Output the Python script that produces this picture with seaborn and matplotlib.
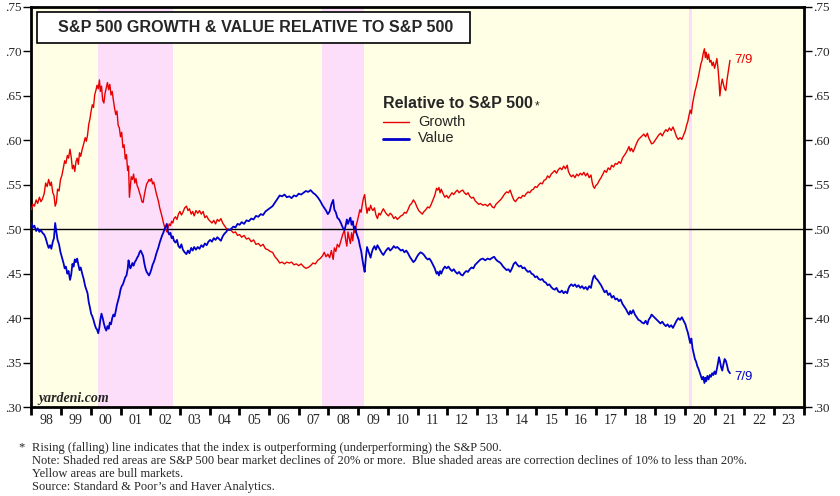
import numpy as np
import pandas as pd
import matplotlib
matplotlib.use("Agg")
import matplotlib.pyplot as plt
import seaborn as sns
from matplotlib.patches import Rectangle
from matplotlib.lines import Line2D

sns.set_style("white")
plt.rcParams['font.family'] = ['Liberation Sans', 'DejaVu Sans']

# weekly-ish readings, decimal years
dates = [
    1998.00, 1998.05, 1998.10, 1998.16, 1998.21, 1998.27, 1998.32, 1998.37, 1998.43, 1998.48, 1998.53, 1998.58, 1998.63, 1998.67, 1998.72, 1998.76, 1998.80, 1998.84, 1998.88, 1998.93, 1998.98,
    1999.03, 1999.08, 1999.12, 1999.16, 1999.21, 1999.25, 1999.30, 1999.34, 1999.38, 1999.42, 1999.46, 1999.50, 1999.54, 1999.58, 1999.62, 1999.66, 1999.71, 1999.76, 1999.81, 1999.85, 1999.89, 1999.93, 1999.97,
    2000.01, 2000.05, 2000.09, 2000.13, 2000.17, 2000.21, 2000.25, 2000.29, 2000.32, 2000.36, 2000.40, 2000.44, 2000.48, 2000.52, 2000.56, 2000.60, 2000.64, 2000.68, 2000.72, 2000.76, 2000.80, 2000.84, 2000.88, 2000.92, 2000.96,
    2001.00, 2001.04, 2001.08, 2001.12, 2001.16, 2001.20, 2001.24, 2001.27, 2001.30, 2001.33, 2001.36, 2001.40, 2001.44, 2001.48, 2001.52, 2001.56, 2001.60, 2001.64, 2001.68, 2001.72, 2001.76, 2001.80, 2001.84, 2001.88, 2001.92, 2001.96,
    2002.00, 2002.04, 2002.08, 2002.12, 2002.16, 2002.20, 2002.24, 2002.28, 2002.32, 2002.36, 2002.40, 2002.44, 2002.48, 2002.52, 2002.56, 2002.60, 2002.64, 2002.68, 2002.72, 2002.76, 2002.80, 2002.85, 2002.90, 2002.95,
    2003.00, 2003.05, 2003.10, 2003.16, 2003.22, 2003.27, 2003.32, 2003.38, 2003.43, 2003.48, 2003.54, 2003.60, 2003.66, 2003.72, 2003.78, 2003.84, 2003.90, 2003.96,
    2004.02, 2004.08, 2004.14, 2004.20, 2004.26, 2004.32, 2004.38, 2004.44, 2004.50, 2004.56, 2004.62, 2004.68, 2004.74, 2004.80, 2004.87, 2004.94,
    2005.01, 2005.08, 2005.16, 2005.24, 2005.32, 2005.40, 2005.48, 2005.56, 2005.64, 2005.72, 2005.80, 2005.88, 2005.96,
    2006.04, 2006.12, 2006.20, 2006.28, 2006.36, 2006.44, 2006.52, 2006.60, 2006.68, 2006.76, 2006.84, 2006.92,
    2007.00, 2007.08, 2007.16, 2007.24, 2007.32, 2007.40, 2007.48, 2007.56, 2007.64, 2007.72, 2007.80, 2007.86, 2007.92, 2007.98,
    2008.04, 2008.10, 2008.16, 2008.20, 2008.25, 2008.30, 2008.36, 2008.42, 2008.48, 2008.54, 2008.58, 2008.62, 2008.66, 2008.70, 2008.74, 2008.78, 2008.82, 2008.86, 2008.90, 2008.94, 2008.98,
    2009.02, 2009.06, 2009.10, 2009.14, 2009.18, 2009.22, 2009.26, 2009.30, 2009.34, 2009.38, 2009.42, 2009.46, 2009.50, 2009.55, 2009.60, 2009.65, 2009.70, 2009.75, 2009.80, 2009.85, 2009.90, 2009.96,
    2010.02, 2010.08, 2010.14, 2010.20, 2010.26, 2010.32, 2010.38, 2010.44, 2010.50, 2010.56, 2010.62, 2010.68, 2010.74, 2010.80, 2010.86, 2010.92, 2010.98,
    2011.04, 2011.10, 2011.16, 2011.22, 2011.28, 2011.34, 2011.40, 2011.46, 2011.52, 2011.58, 2011.64, 2011.68, 2011.72, 2011.76, 2011.80, 2011.86, 2011.92, 2011.98,
    2012.04, 2012.10, 2012.16, 2012.22, 2012.28, 2012.34, 2012.40, 2012.46, 2012.52, 2012.58, 2012.64, 2012.70, 2012.76, 2012.82, 2012.88, 2012.94,
    2013.00, 2013.06, 2013.12, 2013.20, 2013.28, 2013.36, 2013.44, 2013.52, 2013.58, 2013.64, 2013.70, 2013.76, 2013.82, 2013.88, 2013.94,
    2014.00, 2014.06, 2014.12, 2014.18, 2014.24, 2014.30, 2014.36, 2014.42, 2014.48, 2014.54, 2014.60, 2014.66, 2014.72, 2014.78, 2014.84, 2014.90, 2014.96,
    2015.02, 2015.08, 2015.14, 2015.20, 2015.26, 2015.32, 2015.38, 2015.44, 2015.50, 2015.56, 2015.62, 2015.68, 2015.74, 2015.80, 2015.86, 2015.92, 2015.98,
    2016.04, 2016.08, 2016.12, 2016.18, 2016.24, 2016.30, 2016.36, 2016.42, 2016.48, 2016.54, 2016.60, 2016.66, 2016.72, 2016.78, 2016.84, 2016.88, 2016.92, 2016.96,
    2017.00, 2017.06, 2017.12, 2017.18, 2017.24, 2017.30, 2017.36, 2017.42, 2017.48, 2017.54, 2017.60, 2017.66, 2017.72, 2017.78, 2017.84, 2017.90, 2017.96,
    2018.02, 2018.08, 2018.12, 2018.16, 2018.20, 2018.26, 2018.32, 2018.38, 2018.44, 2018.50, 2018.56, 2018.62, 2018.68, 2018.74, 2018.78, 2018.84, 2018.88, 2018.94,
    2019.00, 2019.06, 2019.12, 2019.18, 2019.24, 2019.30, 2019.36, 2019.42, 2019.48, 2019.54, 2019.60, 2019.66, 2019.72, 2019.78, 2019.84, 2019.90, 2019.96,
    2020.02, 2020.06, 2020.10, 2020.14, 2020.18, 2020.22, 2020.26, 2020.30, 2020.34, 2020.38, 2020.42, 2020.46, 2020.50, 2020.54, 2020.58, 2020.62, 2020.66, 2020.69, 2020.72, 2020.76, 2020.80, 2020.84, 2020.88, 2020.92, 2020.96,
    2021.00, 2021.04, 2021.08, 2021.12, 2021.15, 2021.18, 2021.22, 2021.26, 2021.30, 2021.34, 2021.38, 2021.42, 2021.46, 2021.52,
]

growth = [
    .522, .528, .526, .533, .529, .536, .531, .534, .540, .552, .548, .556, .549, .553, .541, .538, .526, .530, .545, .543, .556,
    .561, .570, .577, .574, .583, .580, .590, .581, .568, .572, .565, .576, .580, .573, .586, .582, .590, .596, .603, .599, .606, .618, .624,
    .633, .640, .637, .651, .656, .662, .658, .668, .655, .661, .645, .642, .653, .659, .665, .657, .663, .651, .655, .645, .636, .629, .633, .617, .614,
    .604, .609, .592, .595, .579, .584, .566, .571, .536, .548, .559, .556, .562, .552, .557, .549, .546, .541, .537, .531, .530, .538, .545, .551, .553, .556,
    .554, .557, .551, .553, .547, .541, .536, .531, .524, .519, .514, .508, .503, .500, .497, .502, .506, .504, .509, .507, .512, .514, .511, .517,
    .520, .516, .519, .524, .526, .521, .523, .517, .520, .515, .521, .518, .521, .517, .520, .513, .515, .511,
    .509, .507, .510, .506, .511, .509, .512, .507, .504, .501, .499, .500, .498, .496, .497, .493,
    .494, .491, .493, .489, .490, .486, .488, .483, .484, .481, .483, .478, .477,
    .475, .474, .469, .466, .462, .463, .461, .463, .462, .463, .460, .461,
    .459, .461, .458, .456, .457, .459, .462, .461, .465, .467, .470, .474, .469, .472,
    .468, .476, .466, .479, .475, .483, .480, .487, .494, .499, .488, .481, .497, .490, .484, .496, .487, .500, .496, .505, .510,
    .516, .522, .519, .528, .535, .539, .527, .518, .524, .521, .527, .523, .521, .524, .516, .512, .518, .516, .520, .523, .520, .517,
    .515, .518, .516, .512, .514, .511, .513, .515, .516, .519, .518, .522, .527, .529, .533, .530, .525,
    .521, .519, .517, .520, .522, .525, .524, .528, .533, .538, .546, .544, .547, .541, .545, .540, .536, .538,
    .535, .538, .541, .539, .542, .544, .541, .543, .544, .541, .539, .541, .537, .535, .536, .532,
    .530, .528, .529, .527, .528, .526, .529, .525, .524, .528, .530, .532, .534, .537, .540,
    .542, .541, .544, .538, .533, .531, .534, .536, .535, .538, .537, .540, .542, .541, .544, .545, .548,
    .547, .550, .552, .551, .555, .556, .560, .558, .562, .564, .566, .563, .567, .569, .567, .571, .568,
    .572, .565, .562, .559, .561, .558, .562, .560, .563, .561, .564, .560, .563, .558, .561, .553, .548, .546,
    .549, .551, .555, .558, .562, .566, .564, .569, .567, .572, .570, .574, .573, .576, .574, .580, .583,
    .586, .590, .593, .588, .591, .587, .592, .597, .601, .603, .605, .607, .604, .608, .603, .599, .596, .597,
    .600, .603, .606, .608, .605, .609, .612, .610, .614, .611, .615, .610, .604, .601, .603, .601, .606,
    .611, .617, .621, .628, .634, .630, .641, .648, .655, .660, .666, .672, .679, .686, .690, .698, .703, .693, .699, .691, .697, .688, .690, .684, .688,
    .681, .686, .692, .680, .667, .650, .662, .669, .663, .658, .656, .668, .677, .690,
]

value = [
    .507, .502, .504, .498, .501, .497, .499, .496, .494, .490, .484, .479, .482, .478, .486, .490, .507, .497, .488, .483, .474,
    .468, .462, .456, .458, .450, .453, .443, .449, .461, .458, .466, .463, .467, .460, .454, .457, .450, .444, .436, .432, .428, .418, .412,
    .405, .402, .398, .393, .389, .387, .383, .390, .398, .405, .400, .394, .389, .386, .391, .388, .395, .393, .400, .404, .402, .408, .415, .420, .425,
    .432, .436, .438, .442, .446, .448, .455, .465, .460, .456, .458, .462, .459, .463, .465, .468, .470, .474, .476, .473, .470, .462, .456, .452, .450, .448,
    .451, .455, .460, .463, .467, .472, .476, .480, .485, .489, .493, .496, .500, .503, .506, .497, .494, .496, .490, .492, .487, .485, .488, .481,
    .479, .483, .477, .474, .472, .476, .473, .479, .476, .480, .477, .480, .478, .482, .480, .484, .482, .486,
    .488, .486, .490, .488, .491, .489, .487, .492, .495, .497, .500, .499, .501, .503, .502, .506,
    .505, .508, .506, .510, .509, .512, .511, .515, .514, .517, .516, .520, .522,
    .524, .526, .530, .534, .538, .537, .539, .536, .537, .535, .538, .537,
    .540, .539, .541, .543, .542, .544, .541, .539, .536, .532, .527, .524, .521, .517,
    .520, .528, .533, .522, .519, .513, .511, .507, .502, .499, .504, .511, .506, .510, .513, .505, .509, .500, .503, .496, .492,
    .488, .481, .476, .467, .459, .452, .468, .480, .476, .472, .468, .474, .478, .481, .477, .482, .479, .476, .473, .471, .474, .477,
    .479, .476, .478, .481, .479, .480, .478, .476, .477, .474, .476, .473, .469, .466, .463, .465, .469,
    .472, .474, .473, .471, .468, .466, .467, .464, .460, .456, .450, .452, .448, .453, .450, .455, .458, .456,
    .458, .455, .453, .455, .452, .450, .452, .449, .448, .451, .453, .452, .455, .457, .456, .460,
    .462, .464, .466, .467, .465, .467, .466, .468, .469, .466, .464, .463, .461, .458, .456,
    .454, .455, .452, .456, .461, .463, .460, .458, .459, .456, .457, .454, .452, .453, .450, .449, .446,
    .447, .444, .443, .444, .441, .440, .437, .438, .435, .433, .432, .434, .430, .429, .431, .428, .430,
    .428, .433, .436, .438, .436, .438, .435, .437, .434, .436, .433, .435, .432, .436, .434, .441, .446, .448,
    .445, .443, .440, .437, .433, .429, .431, .426, .428, .423, .425, .421, .422, .419, .421, .416, .413,
    .410, .406, .404, .408, .405, .409, .404, .401, .398, .397, .395, .394, .397, .393, .398, .401, .404, .402,
    .400, .398, .396, .394, .396, .393, .391, .393, .390, .392, .389, .393, .397, .400, .398, .401, .397,
    .393, .388, .384, .378, .372, .377, .366, .360, .354, .351, .346, .343, .339, .335, .331, .334, .327, .333, .329, .335, .331, .336, .334, .338, .336,
    .340, .337, .343, .350, .356, .352, .345, .341, .348, .354, .352, .347, .341, .338,
]

# S&P 500 bear markets (pink)
bear_markets = [(2000.23, 2002.77), (2007.77, 2009.19), (2020.13, 2020.23)]
years = list(range(1998, 2024))
year_labels = [str(y)[2:] for y in years]
y_ticks = [0.30, 0.35, 0.40, 0.45, 0.50, 0.55, 0.60, 0.65, 0.70, 0.75]
end_label = "7/9"

df = pd.DataFrame({"date": dates, "Growth": growth, "Value": value})

fig = plt.figure(figsize=(8.4, 4.96), dpi=100)
ax = fig.add_axes([0.0374, 0.1794, 0.9193, 0.8065])
ax.set_facecolor('#FFFFE6')

for a, b in bear_markets:
    ax.axvspan(a, b, color='#FCDDFA', lw=0, zorder=0)
ax.axhline(0.5, color='black', lw=1, zorder=2)

sns.lineplot(data=df, x='date', y='Growth', color='#E80000', lw=1.0, ax=ax, zorder=3)
sns.lineplot(data=df, x='date', y='Value', color='#0000CC', lw=1.3, ax=ax, zorder=3)

ax.set_xlim(1998, 2024)
ax.set_ylim(0.30, 0.75)
ax.set_xlabel('')
ax.set_ylabel('')

# year ticks on boundaries, labels centred in the year
ax.set_xticks(years + [2024])
ax.set_xticklabels([])
ax.set_xticks([y + 0.5 for y in years], minor=True)
ax.set_xticklabels(year_labels, minor=True, fontsize=10, family='Liberation Serif')
ax.tick_params(axis='x', which='major', length=6, width=2, direction='out', color='black', bottom=True)
ax.tick_params(axis='x', which='minor', length=0, pad=5)

ax.set_yticks(y_ticks)
ax.set_yticklabels([f"{v:.2f}"[1:] for v in y_ticks], fontsize=9.5, family='Liberation Serif')
ax.tick_params(axis='y', left=True, right=True, labelleft=True, labelright=True,
               length=6, width=1, direction='out', color='black', pad=1)

for s in ax.spines.values():
    s.set_color('black')
    s.set_linewidth(2)

# title box
fig.patches.append(Rectangle((37.3 / 840, 1 - 43.3 / 496), (470 - 37.3) / 840, 31.6 / 496,
                             transform=fig.transFigure, facecolor='white', edgecolor='black', lw=1.2, zorder=5))
fig.text(256 / 840, 1 - 27.5 / 496, "S&P 500 GROWTH & VALUE RELATIVE TO S&P 500",
         ha='center', va='center', fontsize=11.6, fontweight='bold', zorder=6)

# legend
leg_title = fig.text(383 / 840, 1 - 104 / 496, "Relative to S&P 500", ha='left', va='center',
                     fontsize=11.5, fontweight='bold')
ax.annotate("*", xy=(1, 1), xycoords=leg_title, xytext=(1, -3), textcoords='offset points',
            ha='left', va='top', fontsize=8.5)
fig.lines.append(Line2D([383 / 840, 409 / 840], [1 - 121.5 / 496] * 2, transform=fig.transFigure,
                        color='#E80000', lw=1))
fig.lines.append(Line2D([383 / 840, 409 / 840], [1 - 138.5 / 496] * 2, transform=fig.transFigure,
                        color='#0000CC', lw=2))
fig.text(418 / 840, 1 - 121.5 / 496, "Growth", ha='left', va='center', fontsize=10.5)
fig.text(418 / 840, 1 - 138.5 / 496, "Value", ha='left', va='center', fontsize=10.5)

# end-point labels
ax.text(dates[-1] + 0.15, growth[-1], end_label, color='#E80000', fontsize=9.5, va='center', ha='left')
ax.text(dates[-1] + 0.15, value[-1] - 0.004, end_label, color='#0000CC', fontsize=9.5, va='center', ha='left')

ax.text(0.009, 0.022, "yardeni.com", transform=ax.transAxes, fontsize=10, family='Liberation Serif',
        fontweight='bold', style='italic', va='center', ha='left')

# footnotes
fig.text(18 / 840, 1 - 447 / 496, "*", fontsize=9, family='Liberation Serif', va='center')
notes = [
    "Rising (falling) line indicates that the index is outperforming (underperforming) the S&P 500.",
    "Note: Shaded red areas are S&P 500 bear market declines of 20% or more.  Blue shaded areas are correction declines of 10% to less than 20%.",
    "Yellow areas are bull markets.",
    "Source: Standard & Poor\u2019s and Haver Analytics.",
]
for i, line in enumerate(notes):
    fig.text(31.5 / 840, 1 - (448.5 + i * 12.8) / 496, line, fontsize=9, family='Liberation Serif', va='center')

fig.savefig("out.png", dpi=100)
